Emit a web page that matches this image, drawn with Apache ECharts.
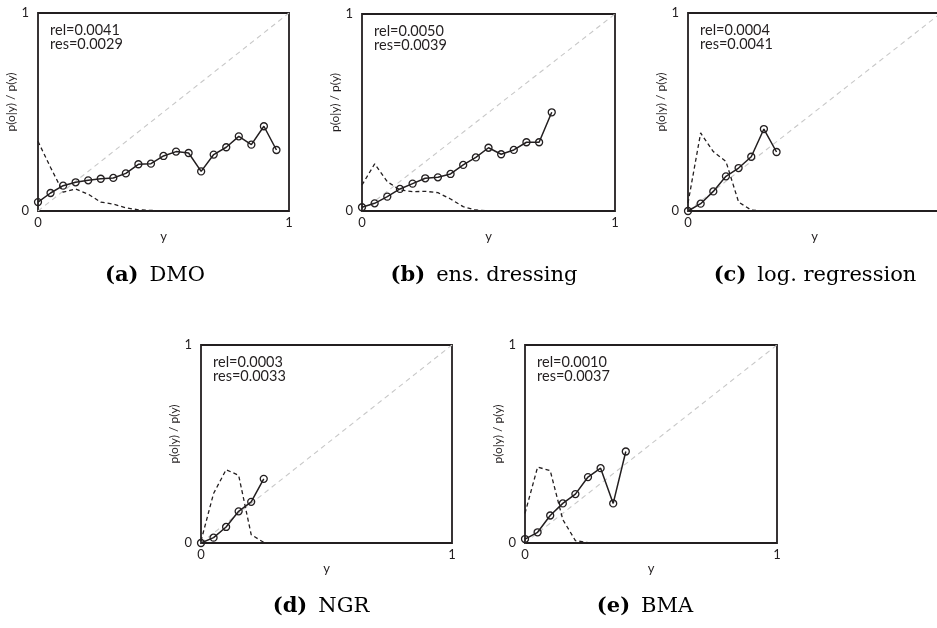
<!DOCTYPE html>
<html>
<head>
<meta charset="utf-8">
<script src="https://cdn.jsdelivr.net/npm/echarts@6/dist/echarts.min.js"></script>
<style>
  html, body { margin: 0; padding: 0; background: #fff; }
  #chart { width: 937px; height: 628px; }
</style>
</head>
<body>
<div id="chart"></div>
<script>
// Bin centres of the forecast probability y
const binY = [0, 0.05, 0.1, 0.15, 0.2, 0.25, 0.3, 0.35, 0.4, 0.45,
              0.5, 0.55, 0.6, 0.65, 0.7, 0.75, 0.8, 0.85, 0.9, 0.95];
const axisTicks = [0, 1];
const axisTickLabels = ['0', '1'];

// Observed frequency per bin (solid line with circles)
const dmoObs  = [0.045, 0.091, 0.128, 0.145, 0.155, 0.163, 0.167, 0.190, 0.236, 0.239,
                 0.278, 0.300, 0.293, 0.200, 0.285, 0.322, 0.377, 0.335, 0.428, 0.308];
const ensObs  = [0.019, 0.039, 0.073, 0.112, 0.139, 0.166, 0.171, 0.188, 0.234, 0.272,
                 0.321, 0.288, 0.310, 0.349, 0.349, 0.501];
const logObs  = [0.000, 0.037, 0.099, 0.175, 0.217, 0.274, 0.414, 0.298];
const ngrObs  = [0.000, 0.027, 0.081, 0.160, 0.208, 0.324];
const bmaObs  = [0.020, 0.054, 0.139, 0.200, 0.247, 0.333, 0.378, 0.200, 0.462];

// Forecast density per bin (dashed line)
const dmoDens = [0.352, 0.220, 0.095, 0.111, 0.085, 0.045, 0.035, 0.016, 0.006, 0.003,
                 0.001, 0, 0, 0, 0, 0, 0, 0, 0, 0];
const ensDens = [0.132, 0.239, 0.149, 0.107, 0.098, 0.100, 0.093, 0.061, 0.022, 0.005,
                 0.001, 0, 0, 0, 0, 0];
const logDens = [0.040, 0.394, 0.300, 0.250, 0.045, 0.005, 0, 0];
const ngrDens = [0.010, 0.250, 0.370, 0.342, 0.042, 0.003, 0];
const bmaDens = [0.150, 0.383, 0.366, 0.118, 0.012, 0.002, 0, 0, 0];

// Perfect-reliability reference
const identity = [[0, 0], [1, 1]];

const panelTags  = ['(a)', '(b)', '(c)', '(d)', '(e)'];
const methods    = ['DMO', 'ens. dressing', 'log. regression', 'NGR', 'BMA'];
const relScores  = ['0.0041', '0.0050', '0.0004', '0.0003', '0.0010'];
const resScores  = ['0.0029', '0.0039', '0.0041', '0.0033', '0.0037'];
const obsSets    = [dmoObs, ensObs, logObs, ngrObs, bmaObs];
const densSets   = [dmoDens, ensDens, logDens, ngrDens, bmaDens];

// Layout of the five panels
const frames = [
  { left: 38,  top: 13,  width: 251, height: 198 },
  { left: 362, top: 14,  width: 253, height: 197 },
  { left: 688, top: 13,  width: 253, height: 198 },
  { left: 201, top: 345, width: 251, height: 198 },
  { left: 525, top: 345, width: 252, height: 198 }
];
const captionCentres = [[155, 276], [484, 276], [815, 276], [321, 607], [645, 607]];

const INK = '#231f20';
const SANS = 'Lato';
const SERIF = 'DejaVu Serif';

const pairs = (vals) => vals.map((v, i) => [binY[i], v]);
const tickFmt = (v) => {
  const k = axisTicks.indexOf(v);
  return k >= 0 ? axisTickLabels[k] : '';
};

const grid = [], xAxis = [], yAxis = [], series = [], graphic = [];

frames.forEach((f, i) => {
  grid.push({
    left: f.left, top: f.top, width: f.width, height: f.height,
    outerBoundsMode: 'none', containLabel: false,
    show: true, borderColor: INK, borderWidth: 1.8, backgroundColor: 'transparent'
  });
  xAxis.push({
    type: 'value', gridIndex: i, min: 0, max: 1, interval: 1,
    name: 'y', nameLocation: 'middle', nameGap: 8,
    nameTextStyle: { fontFamily: SANS, fontSize: 13, color: INK },
    axisLine: { show: false }, axisTick: { show: false }, splitLine: { show: false },
    axisLabel: { formatter: tickFmt, fontFamily: SANS, fontSize: 13, color: INK, margin: 5 }
  });
  yAxis.push({
    type: 'value', gridIndex: i, min: 0, max: 1, interval: 1,
    name: 'p(o|y) / p(y)', nameLocation: 'middle', nameGap: 15, nameRotate: 90,
    nameTextStyle: { fontFamily: SANS, fontSize: 12, color: INK, padding: [0, 0, 0, 20] },
    axisLine: { show: false }, axisTick: { show: false }, splitLine: { show: false },
    axisLabel: { formatter: tickFmt, fontFamily: SANS, fontSize: 13, color: INK, margin: 9 }
  });

  series.push({
    type: 'line', xAxisIndex: i, yAxisIndex: i, data: identity,
    symbol: 'none', silent: true, z: 1,
    lineStyle: { color: '#c8c8c8', width: 1.1, type: [5, 4] }
  });
  series.push({
    type: 'line', xAxisIndex: i, yAxisIndex: i, data: pairs(densSets[i]),
    symbol: 'none', silent: true, z: 2,
    lineStyle: { color: INK, width: 1.3, type: [4, 3] }
  });
  series.push({
    type: 'line', xAxisIndex: i, yAxisIndex: i, data: pairs(obsSets[i]),
    symbol: 'circle', symbolSize: 7, z: 3,
    lineStyle: { color: INK, width: 1.5 },
    itemStyle: { color: 'rgba(255,255,255,0)', borderColor: INK, borderWidth: 1.3 }
  });

  graphic.push({
    type: 'text', x: f.left + 12, y: f.top + 10,
    style: {
      text: 'rel=' + relScores[i] + '\nres=' + resScores[i],
      font: '14.5px ' + SANS, fill: INK, lineHeight: 14.5,
      align: 'left', verticalAlign: 'top'
    }
  });

  const c = captionCentres[i];
  graphic.push({
    type: 'text', x: c[0], y: c[1],
    style: {
      text: '{t|' + panelTags[i] + '}{n|' + methods[i] + '}',
      rich: {
        t: { fontFamily: SERIF, fontWeight: 'bold', fontSize: 21, fill: '#000', padding: [0, 11, 0, 0] },
        n: { fontFamily: SERIF, fontSize: 21, fill: '#000' }
      },
      align: 'center', verticalAlign: 'middle'
    }
  });
});

const chart = echarts.init(document.getElementById('chart'), null, { renderer: 'canvas' });
chart.setOption({
  animation: false,
  backgroundColor: '#fff',
  grid, xAxis, yAxis, series, graphic
});
</script>
</body>
</html>
